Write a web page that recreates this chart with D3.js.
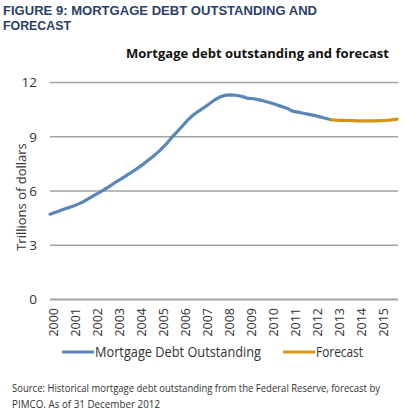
<!DOCTYPE html>
<head>
  <meta charset="utf-8">
  <script src="https://d3js.org/d3.v7.min.js"></script>
  <style>
    body { margin:0; background:#fff; }
    text { font-family: "Open Sans", sans-serif; }
  </style>
</head>
<body>
<script>
  // quarterly values, trillions of dollars
  var histStart = 2000;
  var histValues = [
    4.72, 4.82, 4.93, 5.04,
    5.14, 5.26, 5.40, 5.58,
    5.76, 5.92, 6.10, 6.30,
    6.50, 6.68, 6.88, 7.08,
    7.28, 7.50, 7.74, 7.98,
    8.26, 8.56, 8.92, 9.25,
    9.58, 9.92, 10.20, 10.42,
    10.62, 10.84, 11.06, 11.22,
    11.30, 11.32, 11.28, 11.22,
    11.12, 11.10, 11.04, 10.96,
    10.88, 10.78, 10.68, 10.58,
    10.42, 10.36, 10.30, 10.24,
    10.18, 10.10, 10.02, 9.94
  ];
  var forecastStart = 2012.75;
  var forecastValues = [
    9.94, 9.92, 9.91, 9.90, 9.89,
    9.88, 9.88, 9.88, 9.88,
    9.89, 9.90, 9.93, 9.97
  ];
  var years = d3.range(2000, 2016);
  var yTicks = [0, 3, 6, 9, 12];
  var seriesNames = ["Mortgage Debt Outstanding", "Forecast"];
  var seriesColors = ["#5a86b8", "#d6950f"];
  var titleLines = ["FIGURE 9: MORTGAGE DEBT OUTSTANDING AND", "FORECAST"];
  var sourceLines = ["Source: Historical mortgage debt outstanding from the Federal Reserve, forecast by",
                     "PIMCO. As of 31 December 2012"];

  var W = 405, H = 412;
  var svg = d3.select("body").append("svg").attr("width", W).attr("height", H);

  var x = d3.scaleLinear().domain([2000, 2015.75]).range([50, 397]);
  var y = d3.scaleLinear().domain([0, 12]).range([299.5, 82.5]);

  // titles (a font with a shorter line box so the two lines don't collide)
  var titleLen = [314, 68];
  titleLines.forEach(function(s, i) {
    svg.append("text").attr("x", 3).attr("y", 15 + i * 15)
      .style("font-family", "'Liberation Sans', Arial, sans-serif")
      .style("font-size", "13.2px").style("font-weight", "bold").attr("fill", "#2b3f68")
      .attr("textLength", titleLen[i]).attr("lengthAdjust", "spacingAndGlyphs")
      .text(s);
  });

  svg.append("text").attr("x", 389).attr("y", 58).attr("text-anchor", "end")
    .style("font-size", "12.5px").style("font-weight", "bold").attr("fill", "#111")
    .attr("textLength", 263).attr("lengthAdjust", "spacingAndGlyphs")
    .text("Mortgage debt outstanding and forecast");

  // gridlines
  svg.selectAll("line.grid").data(yTicks).enter().append("line")
    .attr("x1", 50).attr("x2", 398)
    .attr("y1", function(d) { return y(d); }).attr("y2", function(d) { return y(d); })
    .attr("stroke", "#a3a3a3").attr("stroke-width", function(d) { return d === 0 ? 2 : 1.5; });

  svg.selectAll("text.ytick").data(yTicks).enter().append("text")
    .attr("x", 37).attr("y", function(d) { return y(d); }).attr("dy", "0.36em")
    .attr("text-anchor", "end").style("font-size", "13.5px").attr("fill", "#333")
    .text(function(d) { return d; });

  svg.append("text").attr("transform", "translate(26,197) rotate(-90)")
    .attr("text-anchor", "middle").style("font-size", "13px").attr("fill", "#333")
    .text("Trillions of dollars");

  // x labels
  svg.selectAll("text.xtick").data(years).enter().append("text")
    .attr("transform", function(d) { return "translate(" + (x(d) + 3) + ",308) rotate(-90)"; })
    .attr("dy", "0.36em").attr("text-anchor", "end")
    .style("font-size", "12.5px").attr("fill", "#333")
    .text(function(d) { return d; });

  // lines
  var line = d3.line()
    .x(function(d) { return x(d.t); })
    .y(function(d) { return y(d.v); });

  var hist = histValues.map(function(v, i) { return { t: histStart + i / 4, v: v }; });
  var fc = forecastValues.map(function(v, i) { return { t: forecastStart + i / 4, v: v }; });

  [hist, fc].forEach(function(s, i) {
    svg.append("path").datum(s).attr("d", line)
      .attr("fill", "none").attr("stroke", seriesColors[i])
      .attr("stroke-width", 3.2).attr("stroke-linejoin", "round").attr("stroke-linecap", "round");
  });

  // legend
  var legX = [62, 283];
  seriesNames.forEach(function(n, i) {
    svg.append("line").attr("x1", legX[i]).attr("x2", legX[i] + 32)
      .attr("y1", 352).attr("y2", 352)
      .attr("stroke", seriesColors[i]).attr("stroke-width", 3);
    svg.append("text").attr("x", legX[i] + 33).attr("y", 357)
      .style("font-size", "14px").attr("fill", "#333")
      .attr("textLength", i === 0 ? 166 : 47).attr("lengthAdjust", "spacingAndGlyphs")
      .text(n);
  });

  // source
  var sourceLen = [368, 148];
  sourceLines.forEach(function(s, i) {
    svg.append("text").attr("x", 12).attr("y", 392 + i * 16)
      .style("font-size", "10px").attr("fill", "#333")
      .attr("textLength", sourceLen[i]).attr("lengthAdjust", "spacingAndGlyphs")
      .text(s);
  });
</script>
</body>
